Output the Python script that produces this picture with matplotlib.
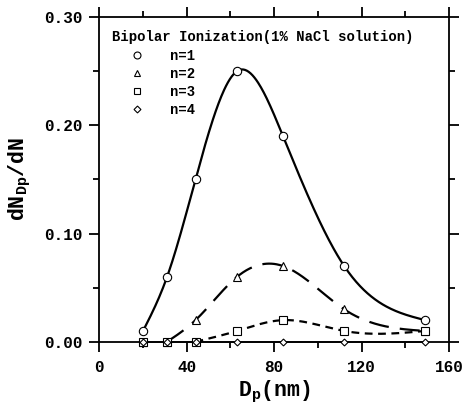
import numpy as np
import matplotlib
matplotlib.use("Agg")
import matplotlib.pyplot as plt
from matplotlib.lines import Line2D
from matplotlib.ticker import MultipleLocator, FormatStrFormatter

# ---- data ----
dp = [20, 31, 44, 63, 84, 112, 149]
n1 = [0.01, 0.06, 0.15, 0.25, 0.19, 0.07, 0.02]
n2 = [0.0, 0.0, 0.02, 0.06, 0.07, 0.03, 0.01]
n3 = [0.0, 0.0, 0.0, 0.01, 0.02, 0.01, 0.01]
n4 = [0.0, 0.0, 0.0, 0.0, 0.0, 0.0, 0.0]
legend_title = "Bipolar Ionization(1% NaCl solution)"
labels = ["n=1", "n=2", "n=3", "n=4"]


def natural_spline(x, y, num=300):
    x = np.asarray(x, float)
    y = np.asarray(y, float)
    n = len(x)
    h = np.diff(x)
    A = np.zeros((n, n))
    b = np.zeros(n)
    A[0, 0] = 1
    A[-1, -1] = 1
    for i in range(1, n - 1):
        A[i, i - 1] = h[i - 1]
        A[i, i] = 2 * (h[i - 1] + h[i])
        A[i, i + 1] = h[i]
        b[i] = 3 * ((y[i + 1] - y[i]) / h[i] - (y[i] - y[i - 1]) / h[i - 1])
    c = np.linalg.solve(A, b)
    xs = np.linspace(x[0], x[-1], num)
    ys = np.empty_like(xs)
    for k, xv in enumerate(xs):
        i = min(np.searchsorted(x, xv, side="right") - 1, n - 2)
        i = max(i, 0)
        dx = xv - x[i]
        bi = (y[i + 1] - y[i]) / h[i] - h[i] * (2 * c[i] + c[i + 1]) / 3
        di = (c[i + 1] - c[i]) / (3 * h[i])
        ys[k] = y[i] + bi * dx + c[i] * dx ** 2 + di * dx ** 3
    return xs, ys


font = "Liberation Mono"
plt.rcParams["font.family"] = [font, "DejaVu Sans Mono"]
plt.rcParams["font.weight"] = "bold"
plt.rcParams["mathtext.fontset"] = "custom"
plt.rcParams["mathtext.rm"] = font + ":bold"
plt.rcParams["mathtext.it"] = font + ":bold"
plt.rcParams["mathtext.bf"] = font + ":bold"

fig = plt.figure(figsize=(4.63, 4.04), dpi=100)
ax = fig.add_axes([0.2145, 0.154, 0.7555, 0.804])

# curves
xs, ys = natural_spline(dp, n1)
ax.plot(xs, ys, color="black", lw=1.6, solid_capstyle="round")
xs, ys = natural_spline(dp[1:], n2[1:])
ax.plot(xs, ys, color="black", lw=1.6, dashes=(9, 5))
xs, ys = natural_spline(dp[2:], n3[2:])
ax.plot(xs, ys, color="black", lw=1.6, dashes=(3.5, 2.5))
ax.plot(dp, n4, color="black", lw=1.2, clip_on=False)

mk = dict(color="black", mfc="white", mec="black", ls="none", mew=0.8,
          clip_on=False, zorder=5)
ax.plot(dp, n1, marker="o", ms=6, **mk)
ax.plot(dp, n2, marker="^", ms=5.5, **mk)
ax.plot(dp, n3, marker="s", ms=5.5, **mk)
ax.plot(dp, n4, marker="D", ms=3.5, **mk)

ax.set_xlim(0, 160)
ax.set_ylim(0, 0.30)
ax.xaxis.set_major_locator(MultipleLocator(40))
ax.xaxis.set_minor_locator(MultipleLocator(20))
ax.yaxis.set_major_locator(MultipleLocator(0.10))
ax.yaxis.set_minor_locator(MultipleLocator(0.05))
ax.yaxis.set_major_formatter(FormatStrFormatter("%.2f"))

ax.tick_params(which="both", direction="out", top=True, right=True,
               width=1.3, labelsize=11.5, pad=6)
ax.tick_params(which="major", length=7)
ax.tick_params(which="minor", length=4.5)
ax.tick_params(axis="x", labeltop=False, pad=6)
ax.tick_params(axis="y", labelright=False, pad=5)
for s in ax.spines.values():
    s.set_linewidth(1.3)

ax.set_xlabel(r"D$_\mathrm{p}$(nm)", fontsize=15.5, fontweight="bold", labelpad=3)
ax.set_ylabel(r"dN$_\mathrm{Dp}$/dN", fontsize=15.5, fontweight="bold", labelpad=8)

handles = [
    Line2D([], [], marker="o", ms=5, mfc="white", mec="black", ls="none", mew=0.8),
    Line2D([], [], marker="^", ms=4.5, mfc="white", mec="black", ls="none", mew=0.8),
    Line2D([], [], marker="s", ms=4.5, mfc="white", mec="black", ls="none", mew=0.8),
    Line2D([], [], marker="D", ms=3.5, mfc="white", mec="black", ls="none", mew=0.8),
]
leg = ax.legend(handles, labels, title=legend_title, loc="upper left",
                bbox_to_anchor=(0.0, 0.997), frameon=False, fontsize=10,
                title_fontproperties={"size": 10, "weight": "bold"},
                alignment="left", handlelength=3.6, handletextpad=0.6,
                labelspacing=0.3, borderpad=0.4)
for t in leg.get_texts():
    t.set_fontweight("bold")

fig.savefig("out.png", dpi=100)
